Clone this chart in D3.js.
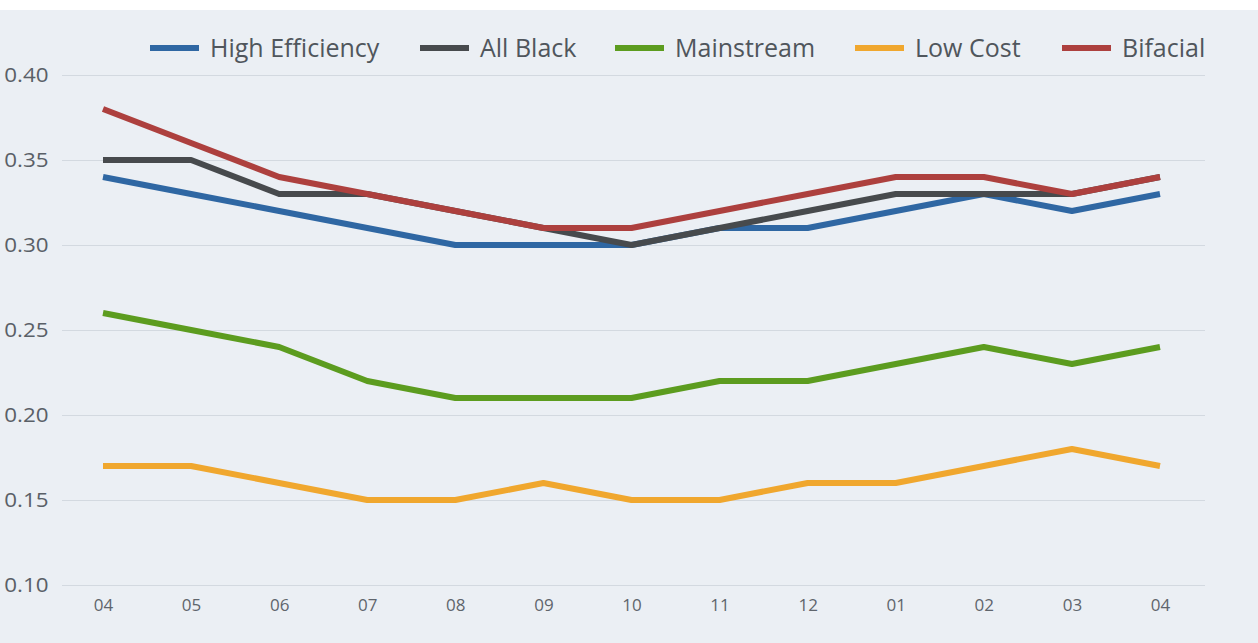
<!DOCTYPE html>
<html><head><meta charset="utf-8">
<script src="https://cdn.jsdelivr.net/npm/d3@7"></script>
<style>
html,body{margin:0;padding:0;background:#fff;}
svg{display:block;font-family:"Open Sans",sans-serif;}
</style></head>
<body>
<svg id="c" width="1258" height="643"></svg>
<script>
const months = ["04","05","06","07","08","09","10","11","12","01","02","03","04"];
const highEfficiency = [0.34,0.33,0.32,0.31,0.30,0.30,0.30,0.31,0.31,0.32,0.33,0.32,0.33];
const allBlack = [0.35,0.35,0.33,0.33,0.32,0.31,0.30,0.31,0.32,0.33,0.33,0.33,0.34];
const mainstream = [0.26,0.25,0.24,0.22,0.21,0.21,0.21,0.22,0.22,0.23,0.24,0.23,0.24];
const lowCost = [0.17,0.17,0.16,0.15,0.15,0.16,0.15,0.15,0.16,0.16,0.17,0.18,0.17];
const bifacial = [0.38,0.36,0.34,0.33,0.32,0.31,0.31,0.32,0.33,0.34,0.34,0.33,0.34];
const yTicks = [0.10,0.15,0.20,0.25,0.30,0.35,0.40];
const seriesNames = ["High Efficiency","All Black","Mainstream","Low Cost","Bifacial"];
const seriesValues = [highEfficiency, allBlack, mainstream, lowCost, bifacial];
const colors = ["#2f67a3","#474a4d","#5c9c1f","#f0a72e","#ad403e"];
const FONT = '"Open Sans", sans-serif';

const svg = d3.select("#c");
svg.append("rect").attr("x",0).attr("y",10).attr("width",1258).attr("height",633).attr("fill","#ebeff4");

const x = d3.scalePoint().domain(months.map((m,i)=>i)).range([103,1160]);
const y = d3.scaleLinear().domain([0.10,0.40]).range([585,75]);

// grid + y labels
const yAxis = svg.append("g").attr("transform","translate(62,0)")
  .call(d3.axisLeft(y).tickValues(yTicks).tickFormat(d3.format(".2f")).tickSize(-1143).tickPadding(12));
yAxis.attr("font-family",FONT);
yAxis.select(".domain").remove();
yAxis.selectAll("line").attr("stroke","#d3d9e0").attr("stroke-width",1.2);
yAxis.selectAll("text").attr("fill","#5a6067").attr("font-size","20px")
  .attr("transform","scale(1.12,1)");

const xAxis = svg.append("g").attr("transform","translate(0,585)")
  .call(d3.axisBottom(x).tickFormat(i=>months[i]).tickSize(0).tickPadding(14));
xAxis.attr("font-family",FONT);
xAxis.select(".domain").remove();
xAxis.selectAll("text").attr("fill","#5f656c").attr("font-size","17px");

const line = d3.line().x((d,i)=>x(i)).y(d=>y(d));
seriesValues.forEach((vals,k)=>{
  svg.append("path").datum(vals).attr("d",line).attr("fill","none")
    .attr("stroke",colors[k]).attr("stroke-width",6).attr("stroke-linejoin","round");
});

// legend
const legendX = [150,420,615,855,1062];
seriesNames.forEach((n,k)=>{
  const g = svg.append("g").attr("transform",`translate(${legendX[k]},48)`);
  g.append("line").attr("x1",0).attr("x2",49).attr("y1",0).attr("y2",0)
    .attr("stroke",colors[k]).attr("stroke-width",6);
  g.append("text").attr("x",60).attr("y",9).attr("font-family",FONT).attr("font-size","25px").attr("fill","#50565c").text(n);
});
</script>
</body></html>
